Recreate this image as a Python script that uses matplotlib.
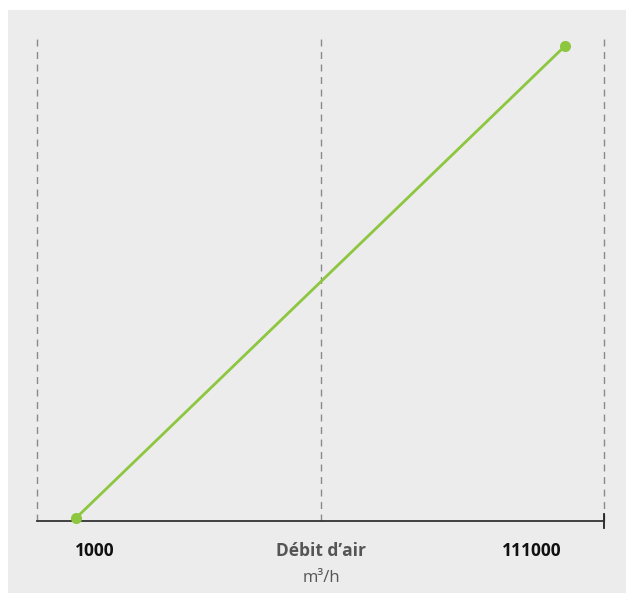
import matplotlib
matplotlib.use("Agg")
import matplotlib.pyplot as plt
from matplotlib.patches import Rectangle

x_values = [1000, 111000]
y_values = [0, 100]
x_labels = ["1000", "111000"]
axis_title = "Débit d’air"
axis_unit = "m³/h"

W, H = 633, 596
fig = plt.figure(figsize=(W / 100, H / 100), dpi=100)
fig.patch.set_facecolor("white")
fig.add_artist(Rectangle((8 / W, 1 - 593 / H), 618 / W, 583 / H,
                         transform=fig.transFigure, facecolor="#ececec",
                         edgecolor="none", zorder=0))

ax = fig.add_axes([37 / W, 1 - 521 / H, (604 - 37) / W, (521 - 38) / H])
ax.set_facecolor("none")
ax.patch.set_visible(False)

px = (x_values[1] - x_values[0]) / (565 - 76)
xmin = x_values[0] - 39 * px
xmax = x_values[1] + 39 * px
ax.set_xlim(xmin, xmax)
py = (y_values[1] - y_values[0]) / (518 - 46)
ax.set_ylim(y_values[0] - 3 * py, y_values[1] + 8 * py)

for xv in [xmin, (xmin + xmax) / 2, xmax]:
    ax.axvline(xv, color="#8a8a8a", lw=1, ls=(0, (5, 4)), zorder=1, clip_on=False)

ax.plot(x_values, y_values, color="#8dc63f", lw=2, marker="o", ms=8,
        markeredgewidth=0, zorder=3, clip_on=False)

for s in ["top", "right", "left"]:
    ax.spines[s].set_visible(False)
ax.spines["bottom"].set_color("#333333")
ax.spines["bottom"].set_linewidth(1.3)
ax.set_xticks([])
ax.set_yticks([])
ax.plot([1, 1], [-0.015, 0.015], transform=ax.transAxes, color="#222222",
        lw=1.3, clip_on=False)

fam = ["Open Sans", "DejaVu Sans"]
fig.text(95 / W, 1 - 551 / H, x_labels[0], ha="center", va="center",
         fontsize=12.5, fontweight="bold", color="#111111", family=fam)
fig.text(532 / W, 1 - 551 / H, x_labels[1], ha="center", va="center",
         fontsize=12.5, fontweight="bold", color="#111111", family=fam)
fig.text(321 / W, 1 - 551 / H, axis_title, ha="center", va="center",
         fontsize=12.5, fontweight="bold", color="#555555", family=fam)
fig.text(321 / W, 1 - 578 / H, axis_unit, ha="center", va="center",
         fontsize=12, color="#555555", family=fam)

fig.savefig("out.png", dpi=100)
